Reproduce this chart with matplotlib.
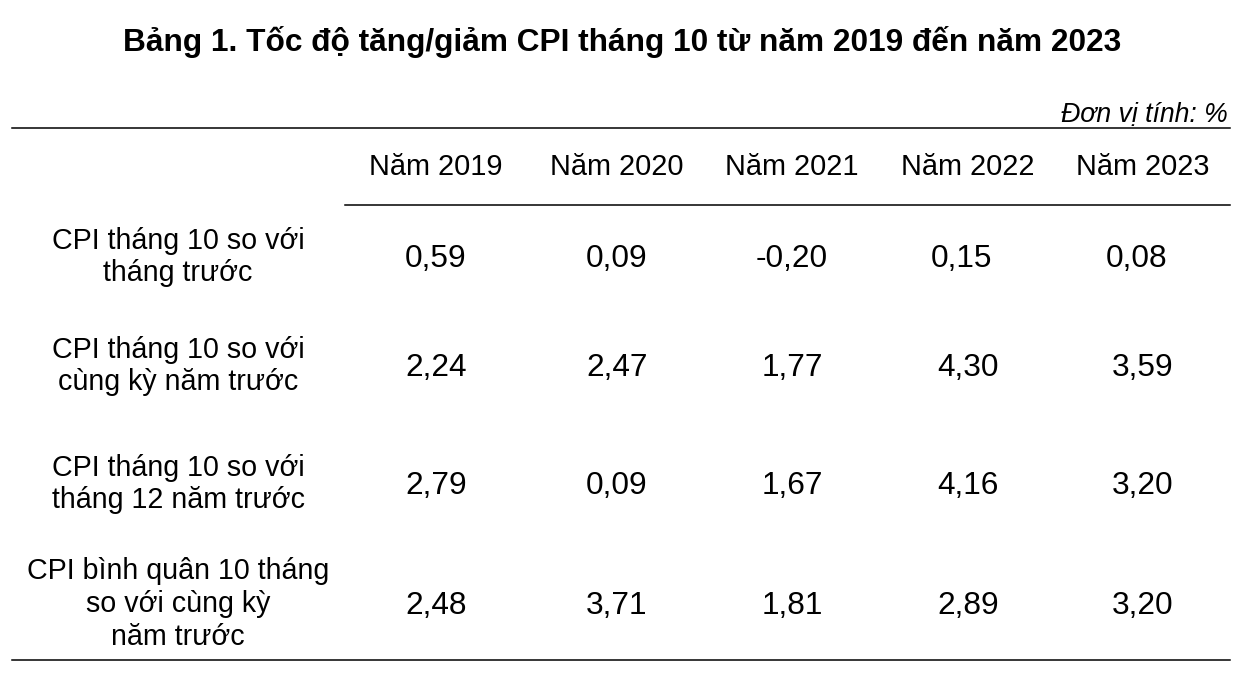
import matplotlib
matplotlib.use('Agg')
import matplotlib.pyplot as plt
from matplotlib.lines import Line2D

#
#--- table content
#
title = 'Bảng 1. Tốc độ tăng/giảm CPI tháng 10 từ năm 2019 đến năm 2023'
unit = 'Đơn vị tính: %'
years = ['Năm 2019', 'Năm 2020', 'Năm 2021', 'Năm 2022', 'Năm 2023']
row_labels = ['CPI tháng 10 so với\ntháng trước',
              'CPI tháng 10 so với\ncùng kỳ năm trước',
              'CPI tháng 10 so với\ntháng 12 năm trước',
              'CPI bình quân 10 tháng\nso với cùng kỳ\nnăm trước']
vals_prev_month = [0.59, 0.09, -0.20, 0.15, 0.08]
vals_same_period = [2.24, 2.47, 1.77, 4.30, 3.59]
vals_dec_prev = [2.79, 0.09, 1.67, 4.16, 3.20]
vals_avg_10m = [2.48, 3.71, 1.81, 2.89, 3.20]
values = [vals_prev_month, vals_same_period, vals_dec_prev, vals_avg_10m]

#
#--- layout in pixels (1247 x 687 canvas)
#
W, H = 1247, 687
col_x = [436, 617, 792, 968, 1143]
row_y = [256, 365, 483, 603]
label_x = 178
# first row of numbers sits a little to the left in the last two columns
row_shift = [[0, 0, 0, -6, -6], [0] * 5, [0] * 5, [0] * 5]

plt.rcParams['font.family'] = ['Liberation Sans', 'DejaVu Sans']

fig = plt.figure(figsize=(W / 100, H / 100), dpi=100)
ax = fig.add_axes([0, 0, 1, 1])
ax.set_xlim(0, W)
ax.set_ylim(H, 0)
ax.axis('off')


def fmt(v):
    return ('%.2f' % v).replace('.', ',')


ax.text(622, 42, title, ha='center', va='center', fontsize=22.8, fontweight='bold')
ax.text(1228, 115, unit, ha='right', va='center', fontsize=19.2, style='italic')

#
#--- rules
#
for (x0, x1, y) in [(12, 1230, 128), (345, 1230, 205), (12, 1230, 660)]:
    ax.add_line(Line2D([x0, x1], [y, y], color='black', lw=1.1))

for i, yr in enumerate(years):
    ax.text(col_x[i], 167, yr, ha='center', va='center', fontsize=20.8)

for r, lab in enumerate(row_labels):
    ax.text(label_x, row_y[r] + 1, lab, ha='center', va='center', fontsize=20.6,
            linespacing=1.22)
    for c, v in enumerate(values[r]):
        ax.text(col_x[c] + row_shift[r][c], row_y[r] + 3, fmt(v),
                ha='center', va='center', fontsize=22.8)

fig.savefig('out.png', dpi=100)
